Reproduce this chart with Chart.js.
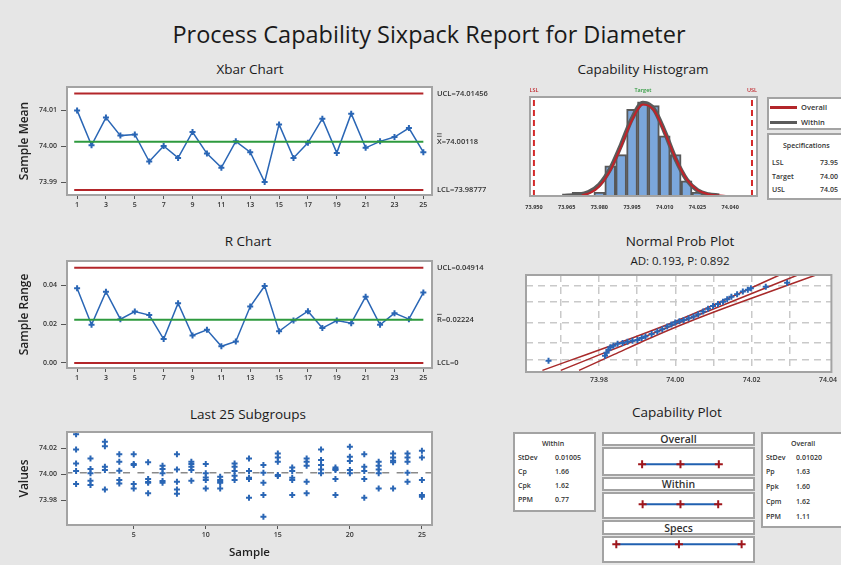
<!DOCTYPE html>
<html>
<head>
<meta charset="utf-8">
<script src="https://cdn.jsdelivr.net/npm/chart.js@4.4.0/dist/chart.umd.min.js"></script>
<style>
body { margin: 0; width: 841px; height: 565px; overflow: hidden; background: #e6e6e6; position: relative; font-family: "Open Sans", sans-serif; color: #1a1a1a; }
canvas { position: absolute; z-index: 2; }
.t { position: absolute; transform: translate(-50%, -50%); white-space: nowrap; line-height: 1; font-size: 13.5px; }
.box { position: absolute; background: #fff; border: 2px solid #a3a3a3; box-sizing: border-box; font-size: 7px; font-weight: 600; color: #333; }
.box span { position: absolute; white-space: nowrap; line-height: 1; transform: translateY(-50%); }
.hdr { font-size: 10.5px; display: flex; align-items: center; justify-content: center; }
</style>
</head>
<body>

<div class="t" style="left:429px;top:35px;font-size:23.5px;">Process Capability Sixpack Report for Diameter</div>
<div class="t" style="left:250px;top:70px;">Xbar Chart</div>
<div class="t" style="left:248px;top:242px;">R Chart</div>
<div class="t" style="left:248px;top:415px;">Last 25 Subgroups</div>
<div class="t" style="left:643px;top:70px;">Capability Histogram</div>
<div class="t" style="left:680px;top:242px;">Normal Prob Plot</div>
<div class="t" style="left:680px;top:261px;font-size:11.5px;">AD: 0.193, P: 0.892</div>
<div class="t" style="left:677px;top:413px;">Capability Plot</div>

<!-- histogram legend -->
<div class="box" style="left:767px;top:97px;width:80px;height:33px;">
  <div style="position:absolute;left:1px;top:7px;width:27px;height:3px;background:#b3262a;"></div>
  <span style="left:32px;top:9px;font-size:7.5px;">Overall</span>
  <div style="position:absolute;left:1px;top:22px;width:27px;height:3px;background:#5a5a5a;"></div>
  <span style="left:32px;top:24px;font-size:7.5px;">Within</span>
</div>
<div class="box" style="left:767px;top:133px;width:80px;height:67px;">
  <span style="left:14px;top:10px;">Specifications</span>
  <span style="left:3px;top:27px;">LSL</span><span style="left:51px;top:27px;">73.95</span>
  <span style="left:3px;top:41px;">Target</span><span style="left:51px;top:41px;">74.00</span>
  <span style="left:3px;top:54px;">USL</span><span style="left:51px;top:54px;">74.05</span>
</div>

<!-- capability plot boxes -->
<div class="box" style="left:513px;top:432px;width:83px;height:80px;">
  <span style="left:27px;top:9px;">Within</span>
  <span style="left:3px;top:23px;">StDev</span><span style="left:40px;top:23px;">0.01005</span>
  <span style="left:3px;top:37px;">Cp</span><span style="left:40px;top:37px;">1.66</span>
  <span style="left:3px;top:51px;">Cpk</span><span style="left:40px;top:51px;">1.62</span>
  <span style="left:3px;top:65px;">PPM</span><span style="left:40px;top:65px;">0.77</span>
</div>
<div class="box hdr" style="left:602px;top:432px;width:153px;height:14px;">Overall</div>
<div class="box" style="left:602px;top:447px;width:153px;height:29px;"></div>
<div class="box hdr" style="left:602px;top:477px;width:153px;height:14px;">Within</div>
<div class="box" style="left:602px;top:492px;width:153px;height:27px;"></div>
<div class="box hdr" style="left:602px;top:520px;width:153px;height:15px;">Specs</div>
<div class="box" style="left:602px;top:536px;width:153px;height:27px;"></div>
<div class="box" style="left:761px;top:432px;width:90px;height:96px;">
  <span style="left:28px;top:9px;">Overall</span>
  <span style="left:3px;top:23px;">StDev</span><span style="left:33px;top:23px;">0.01020</span>
  <span style="left:3px;top:37px;">Pp</span><span style="left:33px;top:37px;">1.63</span>
  <span style="left:3px;top:52px;">Ppk</span><span style="left:33px;top:52px;">1.60</span>
  <span style="left:3px;top:67px;">Cpm</span><span style="left:33px;top:67px;">1.62</span>
  <span style="left:3px;top:82px;">PPM</span><span style="left:33px;top:82px;">1.11</span>
</div>

<canvas id="xbar" width="510" height="135" style="left:0;top:78px;"></canvas>
<canvas id="rchart" width="510" height="134" style="left:0;top:252px;"></canvas>
<canvas id="last25" width="510" height="142" style="left:0;top:423px;"></canvas>
<canvas id="hist" width="240" height="124" style="left:520px;top:88px;"></canvas>
<canvas id="prob" width="321" height="122" style="left:520px;top:268px;"></canvas>
<canvas id="capplot" width="153" height="131" style="left:602px;top:432px;"></canvas>

<script>
// subgroup numbers and tick labels
const samples = [1, 2, 3, 4, 5, 6, 7, 8, 9, 10, 11, 12, 13, 14, 15, 16, 17, 18, 19, 20, 21, 22, 23, 24, 25];
const oddTicks = [1, 3, 5, 7, 9, 11, 13, 15, 17, 19, 21, 23, 25];
const sampleTicks = [5, 10, 15, 20, 25];

// Xbar chart
const xbarValues = [74.0099, 74.0002, 74.0079, 74.0029, 74.0032, 73.9957, 74.0000, 73.9967, 74.0039, 73.9979,
  73.9940, 74.0013, 73.9983, 73.9900, 74.0060, 73.9967, 74.0009, 74.0076, 73.9981, 74.0090,
  73.9995, 74.0013, 74.0025, 74.0050, 73.9983];
const xbarLimits = { ucl: 74.01456, center: 74.00118, lcl: 73.98777 };
const xbarTicks = [73.99, 74.00, 74.01];

// R chart
const rangeValues = [0.0385, 0.0197, 0.0368, 0.0226, 0.0265, 0.0247, 0.0123, 0.0308, 0.0142, 0.0171,
  0.0086, 0.0111, 0.0291, 0.0397, 0.0163, 0.0219, 0.0267, 0.0180, 0.0219, 0.0205,
  0.0342, 0.0197, 0.0257, 0.0226, 0.0363];
const rLimits = { ucl: 0.04914, center: 0.02224, lcl: 0 };
const rTicks = [0.00, 0.02, 0.04];

// Last 25 subgroups (5 measurements each)
const subgroups = [
  [74.0305, 74.0190, 74.0083, 74.0024, 73.9925],
  [74.0121, 74.0040, 74.0007, 73.9951, 73.9917],
  [74.0249, 74.0215, 74.0058, 74.0032, 73.9884],
  [74.0152, 74.0096, 74.0027, 73.9956, 73.9930],
  [74.0152, 74.0078, 74.0070, 73.9925, 73.9892],
  [74.0091, 73.9963, 73.9940, 73.9935, 73.9854],
  [74.0065, 74.0040, 74.0007, 73.9948, 73.9935],
  [74.0152, 74.0037, 73.9943, 73.9884, 73.9850],
  [74.0096, 74.0078, 74.0058, 74.0032, 73.9951],
  [74.0078, 74.0007, 73.9976, 73.9956, 73.9892],
  [73.9981, 73.9956, 73.9945, 73.9935, 73.9892],
  [74.0083, 74.0058, 74.0024, 73.9989, 73.9956],
  [74.0121, 74.0024, 73.9973, 73.9963, 73.9821],
  [74.0070, 74.0012, 73.9935, 73.9841, 73.9675],
  [74.0159, 74.0129, 74.0096, 73.9994, 73.9986],
  [74.0052, 74.0024, 73.9973, 73.9956, 73.9841],
  [74.0121, 74.0096, 74.0065, 73.9943, 73.9854],
  [74.0190, 74.0108, 74.0070, 74.0037, 74.0007],
  [74.0052, 74.0040, 74.0032, 73.9963, 73.9841],
  [74.0210, 74.0134, 74.0101, 74.0032, 74.0007],
  [74.0152, 74.0058, 74.0024, 73.9963, 73.9821],
  [74.0096, 74.0065, 74.0037, 74.0007, 73.9892],
  [74.0159, 74.0129, 74.0103, 74.0091, 73.9892],
  [74.0159, 74.0129, 74.0096, 74.0012, 73.9943],
  [74.0180, 74.0129, 73.9956, 73.9841, 73.9828]
];
const valueTicks = [73.98, 74.00, 74.02];

// Capability histogram
const binCenters = [73.970, 73.975, 73.980, 73.985, 73.990, 73.995, 74.000, 74.005, 74.010, 74.015, 74.020, 74.025];
const binCounts = [1, 0, 1, 8, 11, 23, 25, 24, 16, 11, 4, 1];
const overallCurveX = [73.972, 73.976, 73.980, 73.985, 73.990, 73.995, 74.000, 74.005, 74.010, 74.015, 74.020, 74.025, 74.030, 74.038];
const overallCurveY = [0.2, 0.9, 2.6, 6.8, 13.2, 20.2, 24.3, 22.8, 16.9, 9.9, 4.5, 1.6, 0.5, 0.0];
const withinCurveX = [73.963, 73.970, 73.975, 73.980, 73.985, 73.990, 73.995, 74.000, 74.005, 74.010, 74.015, 74.020, 74.025, 74.030, 74.035];
const withinCurveY = [0.0, 0.3, 1.0, 3.0, 7.2, 13.6, 20.6, 24.7, 23.1, 17.0, 9.8, 4.4, 1.5, 0.4, 0.1];
const histTicks = [73.950, 73.965, 73.980, 73.995, 74.010, 74.025, 74.040];
const specs = { lsl: 73.95, target: 74.00, usl: 74.05 };

// Normal probability plot (value, normal score)
const probX = [73.9668, 73.9816, 73.9820, 73.9825, 73.9830, 73.9838, 73.9849, 73.9862, 73.9875, 73.9888,
  73.9901, 73.9912, 73.9922, 73.9938, 73.9953, 73.9966, 73.9979, 73.9990, 74.0000, 74.0011,
  74.0022, 74.0035, 74.0048, 74.0060, 74.0073, 74.0086, 74.0099, 74.0112, 74.0125, 74.0136,
  74.0147, 74.0162, 74.0177, 74.0190, 74.0198, 74.0237, 74.0293];
const probZ = [-2.39, -2.09, -1.90, -1.70, -1.55, -1.45, -1.34, -1.28, -1.20, -1.14,
  -1.09, -0.98, -0.88, -0.72, -0.57, -0.42, -0.26, -0.12, 0.00, 0.08,
  0.16, 0.27, 0.37, 0.52, 0.68, 0.86, 1.03, 1.16, 1.30, 1.45,
  1.61, 1.77, 1.93, 2.05, 2.14, 2.24, 2.49];
const fitZ = [-3, -2, -1, 0, 1, 2, 3];
const fitX = [73.9700, 73.9804, 73.9908, 74.0012, 74.0116, 74.0220, 74.0324];
const bandOffset = [0.0048, 0.0036, 0.0024, 0.0019, 0.0024, 0.0036, 0.0048];
const probTicks = [73.97, 73.98, 73.99, 74.00, 74.01, 74.02, 74.03, 74.04];
const probGridZ = [-2.326, -1.282, 0, 1.282, 2.326];

// Capability plot intervals
const capRows = ['Overall', 'Within', 'Specs'];
const capIntervals = [
  [73.9706, 74.0012, 74.0318],
  [73.9710, 74.0012, 74.0313],
  [73.9500, 74.0000, 74.0500]
];

const BLUE = '#2a66b5';
const RED = '#b3262a';
const GREEN = '#2e9a3e';
const tickFont = { size: 7, weight: '600' };

Chart.defaults.font.family = "'Open Sans', sans-serif";
Chart.defaults.color = '#333';
Chart.defaults.animation = false;
Chart.defaults.responsive = false;
Chart.defaults.plugins.legend.display = false;
Chart.defaults.plugins.tooltip.enabled = false;

const framePlugin = {
  id: 'frame',
  beforeDraw(chart) {
    const a = chart.chartArea, ctx = chart.ctx;
    ctx.save();
    ctx.fillStyle = '#fff';
    ctx.fillRect(a.left, a.top, a.right - a.left, a.bottom - a.top);
    ctx.restore();
  },
  afterDraw(chart) {
    const a = chart.chartArea, ctx = chart.ctx;
    ctx.save();
    ctx.strokeStyle = '#a3a3a3';
    ctx.lineWidth = 2;
    ctx.strokeRect(a.left, a.top, a.right - a.left, a.bottom - a.top);
    ctx.restore();
  }
};

// text at the right of control charts
const limitLabels = {
  id: 'limitLabels',
  afterDraw(chart, args, opts) {
    const ctx = chart.ctx, y = chart.scales.y, x0 = chart.chartArea.right + 5;
    ctx.save();
    ctx.font = '600 7.5px "Open Sans"';
    ctx.fillStyle = '#333';
    ctx.strokeStyle = '#333';
    ctx.lineWidth = 0.8;
    ctx.textBaseline = 'middle';
    opts.items.forEach(it => {
      const py = y.getPixelForValue(it.value);
      ctx.fillText(it.text, x0, py);
      for (let k = 0; k < (it.bars || 0); k++) {
        const w = ctx.measureText(it.text[0]).width;
        const by = py - 5.5 - k * 2.5;
        ctx.beginPath(); ctx.moveTo(x0, by); ctx.lineTo(x0 + w, by); ctx.stroke();
      }
    });
    ctx.restore();
  }
};

// LSL / Target / USL above the histogram
const specLabels = {
  id: 'specLabels',
  afterDraw(chart, args, opts) {
    const ctx = chart.ctx, x = chart.scales.x, top = chart.chartArea.top;
    ctx.save();
    ctx.font = '600 5.5px "Open Sans"';
    ctx.textAlign = 'center';
    ctx.textBaseline = 'middle';
    opts.items.forEach(it => {
      ctx.fillStyle = it.color;
      ctx.fillText(it.text, x.getPixelForValue(it.value), top - 7);
    });
    ctx.restore();
  }
};

const hLine = (x0, x1, y, color) => ({
  data: [{ x: x0, y: y }, { x: x1, y: y }], showLine: true, pointRadius: 0,
  borderColor: color, borderWidth: 2
});

const xAxisSamples = (ticks, min, max, h, extra) => Object.assign({
  type: 'linear', min: min, max: max,
  afterBuildTicks: s => { s.ticks = ticks.map(v => ({ value: v })); },
  afterFit: s => { s.height = h; },
  ticks: { font: tickFont, padding: 2, autoSkip: false, maxRotation: 0 },
  grid: { drawOnChartArea: false, tickLength: 4, color: '#555' },
  border: { display: false }
}, extra || {});

const yAxisValues = (ticks, min, max, digits, title) => ({
  min: min, max: max,
  afterBuildTicks: s => { s.ticks = ticks.map(v => ({ value: v })); },
  afterFit: s => { s.width = 67; },
  ticks: { font: tickFont, padding: 4, callback: v => v.toFixed(digits) },
  grid: { drawOnChartArea: false, tickLength: 6, color: '#555' },
  border: { display: false },
  title: { display: true, text: title, color: '#222', font: { size: 12, weight: '600' }, padding: { top: 17, bottom: 0 } }
});

const pointLine = (values) => ({
  data: values.map((v, i) => ({ x: samples[i], y: v })),
  showLine: true, borderColor: BLUE, borderWidth: 1.5,
  pointStyle: 'cross', pointRadius: 3, pointBorderWidth: 2,
  pointBorderColor: BLUE, pointBackgroundColor: BLUE
});

// Xbar chart
new Chart(document.getElementById('xbar'), {
  type: 'scatter',
  data: { datasets: [
    hLine(0.8, 25, xbarLimits.ucl, RED),
    hLine(0.8, 25, xbarLimits.lcl, RED),
    hLine(0.8, 25, xbarLimits.center, GREEN),
    pointLine(xbarValues)
  ] },
  options: {
    layout: { padding: { left: 0, right: 78, top: 9, bottom: 0 } },
    scales: {
      x: xAxisSamples(oddTicks, 0.3, 25.6, 18),
      y: yAxisValues(xbarTicks, 73.9864, 74.0164, 2, 'Sample Mean')
    },
    plugins: { limitLabels: { items: [
      { text: 'UCL=74.01456', value: xbarLimits.ucl },
      { text: 'X=74.00118', value: xbarLimits.center, bars: 2 },
      { text: 'LCL=73.98777', value: xbarLimits.lcl }
    ] } }
  },
  plugins: [framePlugin, limitLabels]
});

// R chart
new Chart(document.getElementById('rchart'), {
  type: 'scatter',
  data: { datasets: [
    hLine(0.8, 25, rLimits.ucl, RED),
    hLine(0.8, 25, rLimits.lcl, RED),
    hLine(0.8, 25, rLimits.center, GREEN),
    pointLine(rangeValues)
  ] },
  options: {
    layout: { padding: { left: 0, right: 78, top: 9, bottom: 0 } },
    scales: {
      x: xAxisSamples(oddTicks, 0.3, 25.6, 18),
      y: yAxisValues(rTicks, -0.0026, 0.0526, 2, 'Sample Range')
    },
    plugins: { limitLabels: { items: [
      { text: 'UCL=0.04914', value: rLimits.ucl },
      { text: 'R=0.02224', value: rLimits.center, bars: 1 },
      { text: 'LCL=0', value: rLimits.lcl }
    ] } }
  },
  plugins: [framePlugin, limitLabels]
});

// Last 25 subgroups
const subgroupPoints = [];
subgroups.forEach((g, i) => g.forEach(v => subgroupPoints.push({ x: samples[i], y: v })));
new Chart(document.getElementById('last25'), {
  type: 'scatter',
  data: { datasets: [
    Object.assign(hLine(0.4, 25.7, xbarLimits.center, '#8a8a8a'), { borderWidth: 1.5, borderDash: [7, 7.4], borderDashOffset: 2 }),
    { data: subgroupPoints, pointStyle: 'cross', pointRadius: 3, pointBorderWidth: 2,
      pointBorderColor: BLUE, pointBackgroundColor: BLUE }
  ] },
  options: {
    layout: { padding: { left: 0, right: 78, top: 9, bottom: 0 } },
    scales: {
      x: xAxisSamples(sampleTicks, 0.37, 25.7, 40, {
        title: { display: true, text: 'Sample', color: '#222', font: { size: 11.5, weight: '600' }, padding: { top: 0, bottom: 5 } }
      }),
      y: yAxisValues(valueTicks, 73.9612, 74.0323, 2, 'Values')
    }
  },
  plugins: [framePlugin]
});

// Capability histogram
const yMaxHist = 26.3;
new Chart(document.getElementById('hist'), {
  type: 'bar',
  data: { datasets: [
    { type: 'line', data: overallCurveX.map((x, i) => ({ x: x, y: overallCurveY[i] })),
      borderColor: '#c0232a', borderWidth: 2, pointRadius: 0, cubicInterpolationMode: 'monotone', order: 0 },
    { type: 'line', data: withinCurveX.map((x, i) => ({ x: x, y: withinCurveY[i] })),
      borderColor: '#5a5a5a', borderWidth: 4.5, pointRadius: 0, cubicInterpolationMode: 'monotone', order: 1 },
    { data: binCenters.map((x, i) => ({ x: x, y: binCounts[i] })),
      backgroundColor: '#7ba7dc', borderColor: '#585858', borderWidth: 2,
      barPercentage: 1, categoryPercentage: 1, order: 2 },
    { type: 'line', data: [{ x: specs.lsl, y: 0 }, { x: specs.lsl, y: yMaxHist }],
      borderColor: '#d42a2a', borderWidth: 2, borderDash: [6, 4], pointRadius: 0, order: 3 },
    { type: 'line', data: [{ x: specs.usl, y: 0 }, { x: specs.usl, y: yMaxHist }],
      borderColor: '#d42a2a', borderWidth: 2, borderDash: [6, 4], pointRadius: 0, order: 3 },
    { type: 'line', data: [{ x: specs.target, y: 0 }, { x: specs.target, y: yMaxHist }],
      borderColor: GREEN, borderWidth: 1.5, borderDash: [4, 3], pointRadius: 0, order: 4 }
  ] },
  options: {
    layout: { padding: { left: 10, right: 3, top: 9, bottom: 0 } },
    scales: {
      x: { type: 'linear', min: 73.9482, max: 74.0523, offset: false,
        afterBuildTicks: s => { s.ticks = histTicks.map(v => ({ value: v })); },
        afterFit: s => { s.height = 16; },
        ticks: { font: { size: 5.5, weight: '700' }, padding: 0, autoSkip: false, maxRotation: 0, callback: v => v.toFixed(3) },
        grid: { display: false }, border: { display: false } },
      y: { display: false, min: 0, max: yMaxHist }
    },
    plugins: { specLabels: { items: [
      { text: 'LSL', value: specs.lsl, color: '#c0272d' },
      { text: 'Target', value: specs.target, color: GREEN },
      { text: 'USL', value: specs.usl, color: '#c0272d' }
    ] } }
  },
  plugins: [framePlugin, specLabels]
});

// Normal probability plot
const redLine = (xs) => ({
  data: xs.map((x, i) => ({ x: x, y: fitZ[i] })), showLine: true, pointRadius: 0,
  borderColor: '#a82a2a', borderWidth: 1.5, tension: 0.3
});
new Chart(document.getElementById('prob'), {
  type: 'scatter',
  data: { datasets: [
    { data: probX.map((x, i) => ({ x: x, y: probZ[i] })), pointStyle: 'cross', pointRadius: 3,
      pointBorderWidth: 2, pointBorderColor: BLUE, order: 0 },
    Object.assign(redLine(fitX), { order: 1 }),
    Object.assign(redLine(fitX.map((x, i) => x - bandOffset[i])), { order: 1 }),
    Object.assign(redLine(fitX.map((x, i) => x + bandOffset[i])), { order: 1 })
  ] },
  options: {
    layout: { padding: { left: 6, right: 5, top: 7, bottom: 0 } },
    scales: {
      x: { type: 'linear', min: 73.9609, max: 74.0409,
        afterBuildTicks: s => { s.ticks = probTicks.map(v => ({ value: v })); },
        afterFit: s => { s.height = 18; },
        ticks: { font: tickFont, padding: 4, autoSkip: false, maxRotation: 0,
          callback: v => (Math.round(v * 100) % 2 === 0 ? v.toFixed(2) : '') },
        grid: { color: ctx => (ctx.tick && ctx.tick.value > 74.035 ? 'rgba(0,0,0,0)' : '#c9c9c9'), lineWidth: 1.5, drawTicks: false },
        border: { display: false, dash: [7, 5] } },
      y: { min: -3.1, max: 2.97,
        afterBuildTicks: s => { s.ticks = probGridZ.map(v => ({ value: v })); },
        afterFit: s => { s.width = 0; },
        ticks: { display: false },
        grid: { color: '#c9c9c9', lineWidth: 1.5, drawTicks: false },
        border: { display: false, dash: [7, 5] } }
    }
  },
  plugins: [framePlugin]
});

// Capability plot
new Chart(document.getElementById('capplot'), {
  type: 'scatter',
  data: { datasets: capIntervals.map((iv, r) => ({
    label: capRows[r],
    data: iv.map(v => ({ x: v, y: capRows.length - r })),
    showLine: true, borderColor: '#2060b0', borderWidth: 2,
    pointStyle: 'cross', pointRadius: 4, pointBorderWidth: 2, pointBorderColor: '#a0161b'
  })) },
  options: {
    layout: { padding: 0 },
    scales: {
      x: { display: false, min: 73.94338, max: 74.05588 },
      y: { display: false, min: 0.682, max: 3.659 }
    }
  }
});
</script>
</body>
</html>
